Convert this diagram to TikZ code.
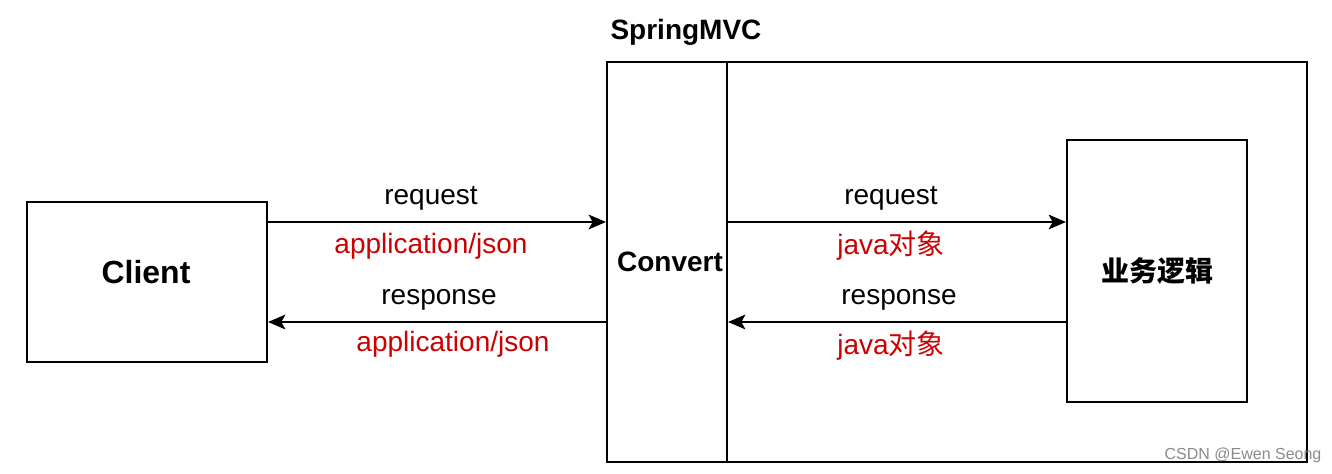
\documentclass[tikz,border=0pt]{standalone}
\usepackage{fontspec}
\setmainfont{Liberation Sans}
\newfontfamily\cjk{Noto Sans CJK SC}
\usetikzlibrary{arrows.meta}
\definecolor{lblred}{HTML}{CC0000}
\definecolor{wmgray}{HTML}{8A8A8A}
\tikzset{
  box/.style={draw, line width=1.5pt, inner sep=0pt},
  arr/.style={line width=1.5pt, -{Stealth[length=13pt,width=11pt,inset=3pt]}},
  lbl/.style={font=\fontsize{21pt}{24pt}\selectfont, inner sep=0pt},
  red/.style={lbl, text=lblred},
  bold/.style={font=\fontsize{21pt}{24pt}\selectfont\bfseries, inner sep=0pt}
}
\begin{document}
\begin{tikzpicture}[x=0.75pt,y=-0.75pt]
\useasboundingbox (0,0) rectangle (1332,474);
% boxes
\node[box, minimum width=180pt, minimum height=120pt] (client) at (147,282) {};
\node[font=\fontsize{24pt}{28pt}\selectfont\bfseries, inner sep=0pt] (clientlbl) at (146,272) {Client};
\node[box, minimum width=525pt, minimum height=300pt] (mvc) at (957,262) {};
\node[box, minimum width=90pt, minimum height=300pt] (conv) at (667,262) {};
\node[bold] (convlbl) at (670,262) {Convert};
\node[box, minimum width=135pt, minimum height=196.5pt] (biz) at (1157,271) {};
\node[bold] (bizlbl) at (1157,271) {\cjk\bfseries 业务逻辑};
\node[bold] (title) at (686,32) {SpringMVC};
% connectors
\draw[arr] ([yshift=45pt]client.east) -- ([yshift=45pt]client.east -| conv.west);
\draw[arr] ([yshift=-30pt]client.east -| conv.west) -- ([yshift=-30pt]client.east);
\draw[arr] ([yshift=45pt]client.east -| conv.east) -- ([yshift=45pt]client.east -| biz.west);
\draw[arr] ([yshift=-30pt]client.east -| biz.west) -- ([yshift=-30pt]client.east -| conv.east);
% labels
\node[lbl] (l1) at (431,198) {request};
\node[red] (l2) at (431,246) {application/json};
\node[lbl] (l3) at (439,300) {response};
\node[red] (l4) at (453,344) {application/json};
\node[lbl] (r1) at (891,198) {request};
\node[red] (r2) at (891,246) {java{\cjk 对象}};
\node[lbl] (r3) at (899,300) {response};
\node[red] (r4) at (891,346) {java{\cjk 对象}};
% watermark
\node[text=wmgray, font=\fontsize{12pt}{14pt}\selectfont, inner sep=0pt] (wm) at (1243,455) {CSDN @Ewen Seong};
\end{tikzpicture}
\end{document}
